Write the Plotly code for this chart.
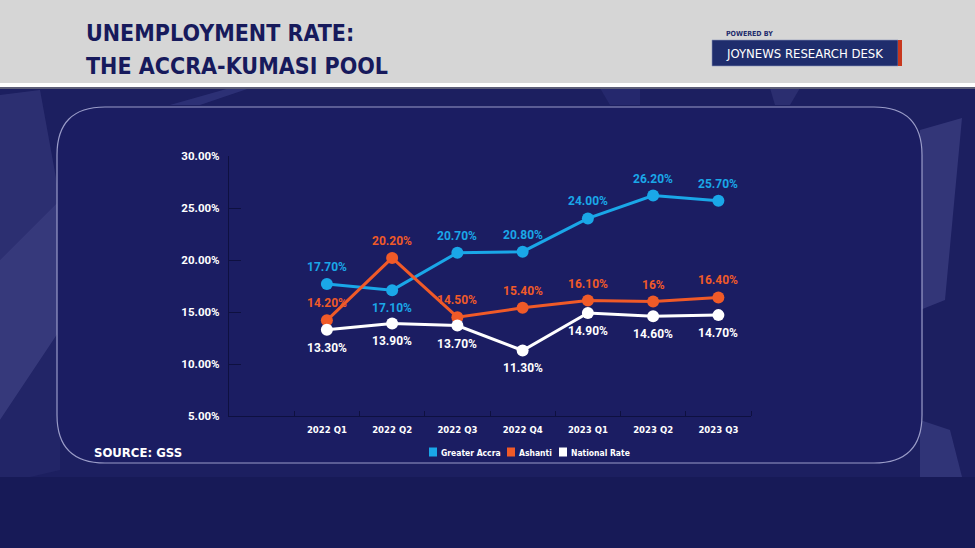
import plotly.graph_objects as go

# ---------------- data ----------------
quarters = ["2022 Q1", "2022 Q2", "2022 Q3", "2022 Q4", "2023 Q1", "2023 Q2", "2023 Q3"]
greater_accra = [17.7, 17.1, 20.7, 20.8, 24.0, 26.2, 25.7]
ashanti = [14.2, 20.2, 14.5, 15.4, 16.1, 16.0, 16.4]
national_rate = [13.3, 13.9, 13.7, 11.3, 14.9, 14.6, 14.7]
ashanti_labels = ["14.20%", "20.20%", "14.50%", "15.40%", "16.10%", "16%", "16.40%"]
y_ticks = [5, 10, 15, 20, 25, 30]

# ---------------- layout helpers ----------------
W, H = 975, 548
L, R, T, B = 229, 751, 156, 416  # plot area in pixels


def px(x):
    return (x - L) / (R - L)


def py(y):
    return (B - y) / (B - T)


NAVY_TXT = "#171a5c"
BLUE = "#1aa7e8"
ORANGE = "#f05a28"
WHITE = "#ffffff"
AXIS = "#0e1040"
NARROW = "DejaVu Sans Condensed, Liberation Sans Narrow, sans-serif"
LABEL_FONT = "Roboto, Open Sans, sans-serif"

x_idx = list(range(len(quarters)))

fig = go.Figure()
series = [
    ("Greater Accra", greater_accra, BLUE),
    ("Ashanti", ashanti, ORANGE),
    ("National Rate", national_rate, WHITE),
]
for name, vals, col in series:
    fig.add_trace(go.Scatter(
        x=x_idx, y=vals, mode="lines+markers", name=name,
        line=dict(color=col, width=3), marker=dict(size=12, color=col),
        showlegend=False, cliponaxis=False, hoverinfo="skip"))

# ---------------- data labels ----------------
annotations = []


def fmt(v):
    return f"{v:.2f}%"


def add_labels(vals, texts, col, above):
    for i, (v, t, up) in enumerate(zip(vals, texts, above)):
        annotations.append(dict(
            x=i, y=v, xref="x", yref="y", text=t, showarrow=False,
            yshift=17 if up else -18, xanchor="center", yanchor="middle",
            font=dict(family=LABEL_FONT, size=12, color=col, weight="bold")))


add_labels(greater_accra, [fmt(v) for v in greater_accra], BLUE,
           [True, False, True, True, True, True, True])
add_labels(ashanti, ashanti_labels, ORANGE, [True] * 7)
add_labels(national_rate, [fmt(v) for v in national_rate], WHITE, [False] * 7)

# ---------------- decoration shapes ----------------
shapes = []


def rect(x0, y0, x1, y1, color, line=None):
    return dict(type="rect", xref="paper", yref="paper",
                x0=px(x0), x1=px(x1), y0=py(y1), y1=py(y0),
                fillcolor=color, line=dict(width=0) if line is None else line,
                layer="below")


def poly(points, color):
    d = "M " + " L ".join(f"{px(a):.5f},{py(b):.5f}" for a, b in points) + " Z"
    return dict(type="path", xref="paper", yref="paper", path=d,
                fillcolor=color, line=dict(width=0), layer="below")


shapes.append(rect(0, 88, W, 477, "#1c1f60"))
shapes.append(rect(0, 477, W, H, "#171a57"))
shapes.append(poly([(0, 95), (40, 90), (60, 200), (0, 260)], "rgba(70,72,140,0.40)"))
shapes.append(poly([(0, 260), (60, 200), (60, 330), (0, 420)], "rgba(95,97,165,0.40)"))
shapes.append(poly([(0, 420), (60, 330), (60, 470), (30, 477), (0, 477)], "rgba(50,52,120,0.30)"))
shapes.append(poly([(170, 105), (230, 88), (250, 88), (200, 105)], "rgba(70,74,150,0.40)"))
shapes.append(poly([(600, 88), (640, 88), (640, 105), (610, 105)], "rgba(60,64,140,0.30)"))
shapes.append(poly([(920, 130), (962, 118), (945, 300), (920, 310)], "rgba(95,98,165,0.35)"))
shapes.append(poly([(920, 420), (950, 430), (962, 477), (920, 477)], "rgba(80,84,155,0.40)"))
shapes.append(poly([(770, 88), (800, 88), (790, 105), (775, 105)], "rgba(80,84,150,0.30)"))

# panel (rounded rectangle)
x0, y0, x1, y1, r = 57, 107, 922, 463, 48
pts = [
    ("M", x0 + r, y0), ("L", x1 - r, y0), ("Q", x1, y0, x1, y0 + r), ("L", x1, y1 - r),
    ("Q", x1, y1, x1 - r, y1), ("L", x0 + r, y1), ("Q", x0, y1, x0, y1 - r),
    ("L", x0, y0 + r), ("Q", x0, y0, x0 + r, y0),
]
segs = []
for p in pts:
    if p[0] == "Q":
        segs.append(f"Q {px(p[1]):.5f},{py(p[2]):.5f} {px(p[3]):.5f},{py(p[4]):.5f}")
    else:
        segs.append(f"{p[0]} {px(p[1]):.5f},{py(p[2]):.5f}")
shapes.append(dict(type="path", xref="paper", yref="paper", path=" ".join(segs) + " Z",
                   fillcolor="#1b1d62", line=dict(color="#9a9cc8", width=1.2), layer="below"))

# header
shapes.append(rect(0, 0, W, 83, "#d6d6d6"))
shapes.append(rect(0, 83, W, 87, "#ffffff"))
shapes.append(rect(0, 87, W, 89, "#5d5f78"))
shapes.append(rect(712, 40, 898, 66, "#1f2d6d", line=dict(color="#8a93b8", width=0.6)))
shapes.append(rect(898, 40, 902, 66, "#c8381e"))

# ---------------- legend (swatches + names) ----------------
legend_items = [(name, col, w) for (name, _, col), w in zip(series, [62, 36, 62])]
total = sum(10 + w for _, _, w in legend_items) + 6 * (len(legend_items) - 1)
lx = 530 - total / 2
for name, col, w in legend_items:
    shapes.append(dict(type="rect", xref="paper", yref="paper",
                       x0=px(lx), x1=px(lx + 8), y0=py(456.5), y1=py(447.5),
                       fillcolor=col, line=dict(width=0), layer="above"))
    annotations.append(dict(text=name, x=px(lx + 10), y=py(452.5), xref="paper", yref="paper",
                            xanchor="left", yanchor="middle", showarrow=False,
                            font=dict(family=NARROW, size=8.5, color=WHITE, weight="bold")))
    lx += 10 + w + 6

# ---------------- text ----------------
texts = [
    dict(text="UNEMPLOYMENT RATE:", x=px(84), y=py(33), xanchor="left", yanchor="middle",
         font=dict(family=NARROW, size=23, color=NAVY_TXT, weight="bold")),
    dict(text="THE ACCRA-KUMASI POOL", x=px(84), y=py(66), xanchor="left", yanchor="middle",
         font=dict(family=NARROW, size=23, color=NAVY_TXT, weight="bold")),
    dict(text="POWERED BY", x=px(724), y=py(34), xanchor="left", yanchor="middle",
         font=dict(family=NARROW, size=7, color="#1f2d6d", weight="bold")),
    dict(text="JOYNEWS RESEARCH DESK", x=px(804), y=py(53), xanchor="center", yanchor="middle",
         font=dict(family=NARROW, size=13, color=WHITE)),
    dict(text="SOURCE: GSS", x=px(92), y=py(452), xanchor="left", yanchor="middle",
         font=dict(family=NARROW, size=13, color=WHITE, weight="bold")),
]
for a in texts:
    a.update(xref="paper", yref="paper", showarrow=False)
annotations.extend(texts)

fig.update_layout(
    width=W, height=H, autosize=False,
    margin=dict(l=L, r=W - R, t=T, b=H - B, pad=0),
    paper_bgcolor="#1b1d5e", plot_bgcolor="rgba(0,0,0,0)",
    shapes=shapes, annotations=annotations, showlegend=False,
    xaxis=dict(range=[-1.5, 6.5], tickmode="array", tickvals=x_idx, ticktext=quarters,
               ticks="", showgrid=False, zeroline=False, showline=True,
               linecolor=AXIS, linewidth=1.2, ticklabelstandoff=4,
               tickfont=dict(family=NARROW, size=9.5, color=WHITE, weight="bold"),
               minor=dict(tickmode="array", tickvals=[i - 0.5 for i in range(8)],
                          ticks="inside", ticklen=5, tickcolor=AXIS, tickwidth=1.2,
                          showgrid=False)),
    yaxis=dict(range=[5, 30], tickmode="array", tickvals=y_ticks,
               ticktext=[f"{v:.2f}%" for v in y_ticks],
               ticks="inside", ticklen=12, tickcolor=AXIS, tickwidth=1.2,
               showgrid=False, zeroline=False, showline=True,
               linecolor=AXIS, linewidth=1.2, ticklabelstandoff=6,
               tickfont=dict(family=LABEL_FONT, size=11.5, color=WHITE, weight="bold")),
)

fig.write_html("out.html", config={"displayModeBar": False},
               post_script="document.body.style.margin='0';")
